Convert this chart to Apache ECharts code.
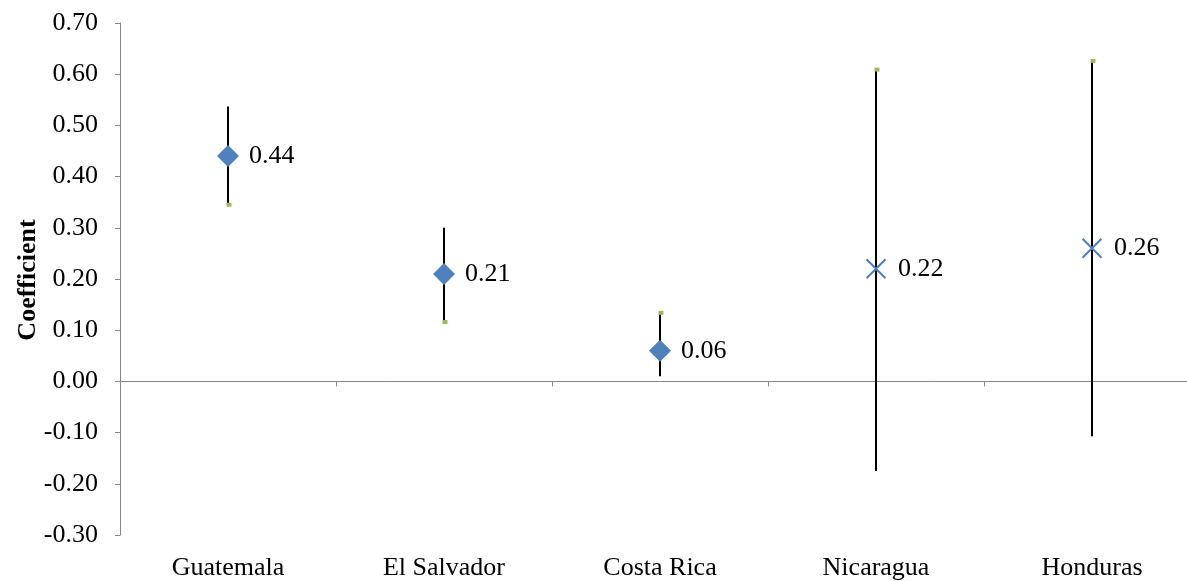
<!DOCTYPE html>
<html>
<head>
<meta charset="utf-8">
<script src="https://cdn.jsdelivr.net/npm/echarts@6/dist/echarts.min.js"></script>
<style>
  html, body { margin: 0; padding: 0; background: #ffffff; overflow: hidden; }
  #chart { width: 1200px; height: 581px; }
</style>
</head>
<body>
<div id="chart"></div>
<script>
// Point estimates with confidence intervals by country
const categories = ['Guatemala', 'El Salvador', 'Costa Rica', 'Nicaragua', 'Honduras'];
const coefficients = [0.44, 0.21, 0.06, 0.22, 0.26];
const lowerBounds = [0.345, 0.116, 0.010, -0.175, -0.107];
const upperBounds = [0.537, 0.300, 0.134, 0.609, 0.626];
// which end of each interval carries the small green marker
const capEnd = ['low', 'low', 'high', 'high', 'high'];
const markerKind = ['diamond', 'diamond', 'diamond', 'cross', 'cross'];
const yMin = -0.3, yMax = 0.7, yStep = 0.1;

const FONT = '"Liberation Serif", "Times New Roman", serif';
const AXIS_GRAY = '#868686';
const BLUE = '#4F81BD';

const diamondData = [], crossData = [];
coefficients.forEach((v, i) => {
  (markerKind[i] === 'diamond' ? diamondData : crossData).push([i, v]);
});
const intervalData = categories.map((c, i) => [i, lowerBounds[i], upperBounds[i], capEnd[i] === 'high' ? upperBounds[i] : lowerBounds[i]]);

const valueLabel = {
  show: true,
  position: 'right',
  distance: 10,
  color: '#000',
  fontFamily: FONT,
  fontSize: 26,
  formatter: p => p.value[1].toFixed(2)
};

// the plot area runs slightly past the right edge of the window
const chart = echarts.init(document.getElementById('chart'), null, { renderer: 'canvas' });
chart.setOption({
  animation: false,
  backgroundColor: '#ffffff',
  grid: { left: 120, top: 23, width: 1080, height: 516, containLabel: false },
  xAxis: [
    {
      type: 'category',
      data: categories,
      position: 'bottom',
      boundaryGap: true,
      axisLine: { show: true, onZero: true, lineStyle: { color: AXIS_GRAY, width: 1 } },
      axisTick: { show: true, length: 5, lineStyle: { color: AXIS_GRAY } },
      axisLabel: { show: false },
      splitLine: { show: false }
    },
    {
      type: 'category',
      data: categories,
      position: 'bottom',
      axisLine: { show: false, onZero: false },
      axisTick: { show: false },
      axisLabel: { show: true, margin: 20, color: '#000', fontFamily: FONT, fontSize: 26 },
      splitLine: { show: false }
    }
  ],
  yAxis: {
    type: 'value',
    min: yMin,
    max: yMax,
    interval: yStep,
    axisLine: { show: true, lineStyle: { color: AXIS_GRAY, width: 1 } },
    axisTick: { show: true, length: 5, lineStyle: { color: AXIS_GRAY } },
    axisLabel: {
      margin: 22,
      color: '#000',
      fontFamily: FONT,
      fontSize: 26,
      formatter: v => v.toFixed(2)
    },
    splitLine: { show: false }
  },
  graphic: [{
    type: 'text',
    x: 28,
    y: 280,
    rotation: Math.PI / 2,
    style: {
      text: 'Coefficient',
      align: 'center',
      verticalAlign: 'middle',
      fill: '#000',
      font: 'bold 26px ' + FONT
    }
  }],
  series: [
    {
      type: 'custom',
      xAxisIndex: 0,
      z: 2,
      data: intervalData,
      renderItem: (params, api) => {
        const lo = api.coord([api.value(0), api.value(1)]);
        const hi = api.coord([api.value(0), api.value(2)]);
        const cap = api.coord([api.value(0), api.value(3)]);
        return {
          type: 'group',
          children: [
            {
              type: 'line',
              shape: { x1: lo[0], y1: lo[1], x2: hi[0], y2: hi[1] },
              style: { stroke: '#000', lineWidth: 2 }
            },
            {
              type: 'rect',
              shape: { x: cap[0] - 1.5, y: cap[1] - 2, width: 5, height: 4 },
              style: { fill: '#9BBB59' }
            }
          ]
        };
      }
    },
    {
      type: 'scatter',
      xAxisIndex: 0,
      z: 3,
      symbol: 'diamond',
      symbolSize: [22, 22],
      itemStyle: { color: BLUE, opacity: 1 },
      label: valueLabel,
      data: diamondData
    },
    {
      type: 'scatter',
      xAxisIndex: 0,
      z: 3,
      symbol: 'path://M0,0L10,10M10,0L0,10',
      symbolSize: [19, 19],
      itemStyle: { color: 'none', borderColor: BLUE, borderWidth: 2, opacity: 1 },
      label: valueLabel,
      data: crossData
    }
  ]
});
</script>
</body>
</html>
